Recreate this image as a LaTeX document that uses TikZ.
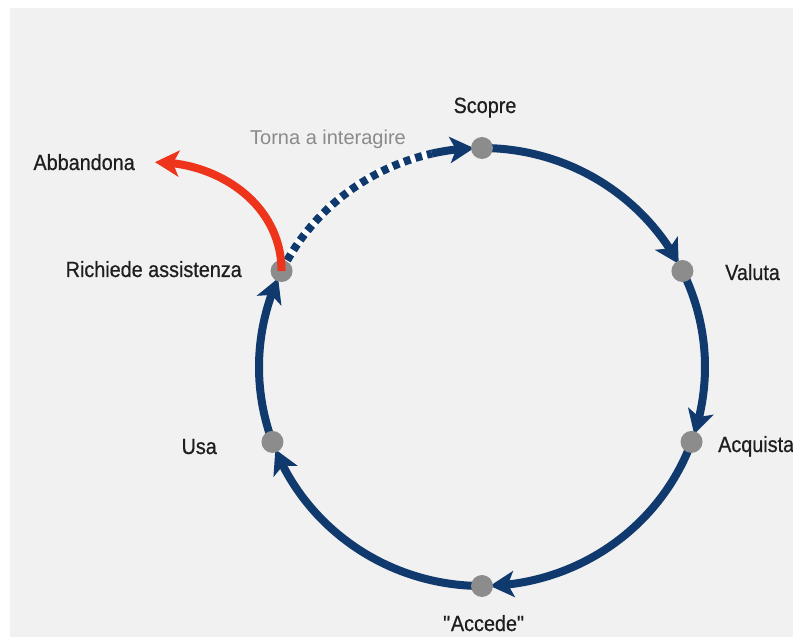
\documentclass[tikz,border=0pt]{standalone}
\usepackage{fontspec}
\setmainfont{Liberation Sans}[FakeStretch=0.9,FakeBold=0.6]
\newfontfamily\plainfont{Liberation Sans}
\usetikzlibrary{arrows.meta,bending,backgrounds}

\definecolor{navy}{RGB}{16,58,110}
\definecolor{quitred}{RGB}{238,52,26}
\definecolor{dotgray}{RGB}{140,140,140}
\definecolor{bggray}{RGB}{241,241,241}
\definecolor{labeldark}{RGB}{30,30,30}
\definecolor{labelgray}{RGB}{138,138,138}

\begin{document}
\begin{tikzpicture}[
	% 1 unit = 1 pixel, origin in the middle of the cycle
	x=1pt, y=1pt,
	font=\fontsize{22}{26}\selectfont,
	stagedot/.style={circle,fill=dotgray,minimum size=22pt,inner sep=0pt},
	lbl/.style={text=labeldark,inner sep=0pt,anchor=base},
	flow/.style={-{Stealth[length=24pt,width=26pt,inset=6pt]},navy,line width=8pt,shorten >=8pt},
	band/.style={white,line width=8pt},
	dashflow/.style={navy,line width=8pt,dash pattern=on 7pt off 5pt},
	quitarrow/.style={-{Stealth[length=24pt,width=26pt,inset=6pt]},quitred,line width=8pt}
	]

	\useasboundingbox (-482,-270) rectangle (311,367);

	%
	% Stages on the cycle
	%
	\foreach \name/\ang in {scopre/90,valuta/26,acquista/-20,accede/-90,usa/200,richiede/154}{
		\node[stagedot] (\name) at (\ang:223 and 219) {};
	}
	\coordinate (ritorno) at (103:223 and 219);

	% labels
	\node[lbl] (lscopre) at (3,254) {Scopre};
	\node[lbl,anchor=base west] (lvaluta) at (243,87) {Valuta};
	\node[lbl,anchor=base west] (lacquista) at (236,-85) {Acquista};
	\node[lbl] (laccede) at (2,-264) {\textquotedbl Accede\textquotedbl};
	\node[lbl,anchor=base east] (lusa) at (-265,-87) {Usa};
	\node[lbl,anchor=base east] (lrichiede) at (-240,90) {Richiede assistenza};
	\node[lbl,anchor=base east] (labbandona) at (-347,197) {Abbandona};
	\node[lbl,anchor=base west,text=labelgray,font=\plainfont\fontsize{20}{24}\selectfont] (ltorna) at (-232,222) {Torna a interagire};

	%
	% Background and cycle arrows
	%
	\begin{scope}[on background layer]
		\fill[bggray] (-472,-270) rectangle (311,359);
		\foreach \a/\s/\e in {scopre/90/26,valuta/26/-20,acquista/-20/-90,accede/-90/-160,usa/200/154}{
			\draw[flow] (\a.center) arc[start angle=\s,end angle=\e,x radius=223,y radius=219];
		}
		% dashed way back
		\draw[band] (richiede.center) arc[start angle=154,end angle=103,x radius=223,y radius=219];
		\draw[dashflow] (richiede.center) arc[start angle=154,end angle=103,x radius=223,y radius=219];
		\draw[flow] (ritorno) arc[start angle=103,end angle=90,x radius=223,y radius=219];
	\end{scope}

	% way out
	\coordinate (abbandonaTip) at ([xshift=20pt]labbandona.east);
	\draw[quitarrow] (richiede.center) to[out=90,in=0] (abbandonaTip);
\end{tikzpicture}
\end{document}
